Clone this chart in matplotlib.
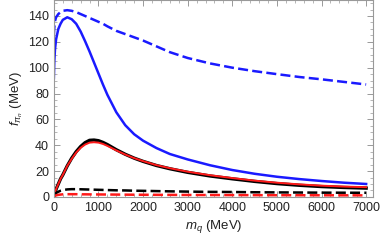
import numpy as np
import matplotlib
matplotlib.use("Agg")
from matplotlib import pyplot as plt
from matplotlib.ticker import MultipleLocator

plt.rcParams['font.family'] = ['Liberation Sans', 'DejaVu Sans']
plt.rcParams['mathtext.fontset'] = 'custom'
plt.rcParams['mathtext.it'] = 'Liberation Sans:italic'
plt.rcParams['mathtext.rm'] = 'Liberation Sans'

# quark mass grid (MeV)
mq = [0, 10, 25, 50, 100, 150, 200, 300, 400, 500, 600, 700, 800, 900, 1000,
      1100, 1200, 1400, 1600, 1800, 2000, 2300, 2600, 3000, 3500, 4000, 4500, 5000,
      5500, 6000, 6500, 7000]

# decay constants (MeV)
blue_solid = [92, 105, 114, 122, 130, 134, 137, 139, 137.5, 134, 128, 120.5, 112.5, 104, 95.5,
              87, 79, 65.5, 55.5, 48.5, 43.5, 37.8, 33.2, 29, 24.5, 20.8, 17.9, 15.6,
              13.8, 12.3, 11, 10]
blue_dash = [125, 131, 136, 139, 141.5, 143, 144, 144.5, 144, 143, 141.5, 140, 138.5, 137, 135.5,
             134, 132, 128.5, 126, 123.5, 121, 116.5, 112, 107.5, 103.3, 100, 97.3, 95,
             92.8, 91, 89, 87]
black_solid = [0, 1.5, 3.5, 6, 10, 14, 17, 24, 30, 35, 39, 42, 43.8, 44, 43.5,
               42.2, 40.5, 36.5, 33, 30, 27.5, 24.3, 21.8, 19, 16.2, 14, 12, 10.3,
               9, 8, 7.3, 6.8]
red_solid = [0, 1.5, 3.5, 6, 10, 14, 17, 24, 29.5, 34.3, 38, 40.5, 42, 42.3, 42,
             41, 39.5, 36, 32.8, 30, 27.7, 24.6, 22.2, 19.5, 16.8, 14.6, 12.6, 11,
             9.7, 8.7, 8, 7.5]
black_dash = [0, 1, 2, 3, 4, 4.8, 5.3, 5.8, 6, 6, 5.9, 5.8, 5.7, 5.6, 5.5,
              5.4, 5.3, 5.1, 5.0, 4.8, 4.7, 4.5, 4.3, 4.1, 3.9, 3.8, 3.6, 3.5,
              3.4, 3.3, 3.25, 3.2]
red_dash = [0, 0.4, 0.8, 1.2, 1.6, 1.8, 2.0, 2.1, 2.1, 2.1, 2.0, 2.0, 1.95, 1.9, 1.9,
            1.88, 1.85, 1.8, 1.75, 1.7, 1.65, 1.6, 1.55, 1.5, 1.45, 1.4, 1.35, 1.3,
            1.28, 1.25, 1.22, 1.2]

fig = plt.figure(figsize=(3.82, 2.44), dpi=100)
ax = fig.add_axes([0.141, 0.193, 0.835, 0.805])

lw = 1.8
dash = (0, (4, 1.7))
ax.plot(mq, blue_dash, color="#1a1aff", lw=lw, ls=dash)
ax.plot(mq, blue_solid, color="#1a1aff", lw=lw)
ax.plot(mq, black_solid, color="black", lw=2.4)
ax.plot(mq, red_solid, color="#ff1a1a", lw=1.4)
ax.plot(mq, black_dash, color="black", lw=lw, ls=dash)
ax.plot(mq, red_dash, color="#ff1a1a", lw=lw, ls=dash)

ax.set_xlim(0, 7150)
ax.set_ylim(0, 152)
ax.xaxis.set_major_locator(MultipleLocator(1000))
ax.xaxis.set_minor_locator(MultipleLocator(200))
ax.yaxis.set_major_locator(MultipleLocator(20))
ax.yaxis.set_minor_locator(MultipleLocator(5))

for s in ax.spines.values():
    s.set_color("#999999")
    s.set_linewidth(0.8)
ax.tick_params(which="both", direction="in", color="#999999", top=True, right=True,
               labelsize=9, labelcolor="#222222")
ax.tick_params(which="major", length=4, width=0.7)
ax.tick_params(which="minor", length=2, width=0.5)

ax.set_xlabel(r"$m_q$ (MeV)", fontsize=9.5, color="#222222", labelpad=3)
ax.set_ylabel(r"$f_{\pi_n}$ (MeV)", fontsize=9.5, color="#222222", labelpad=2)

fig.savefig("out.png", dpi=100)
